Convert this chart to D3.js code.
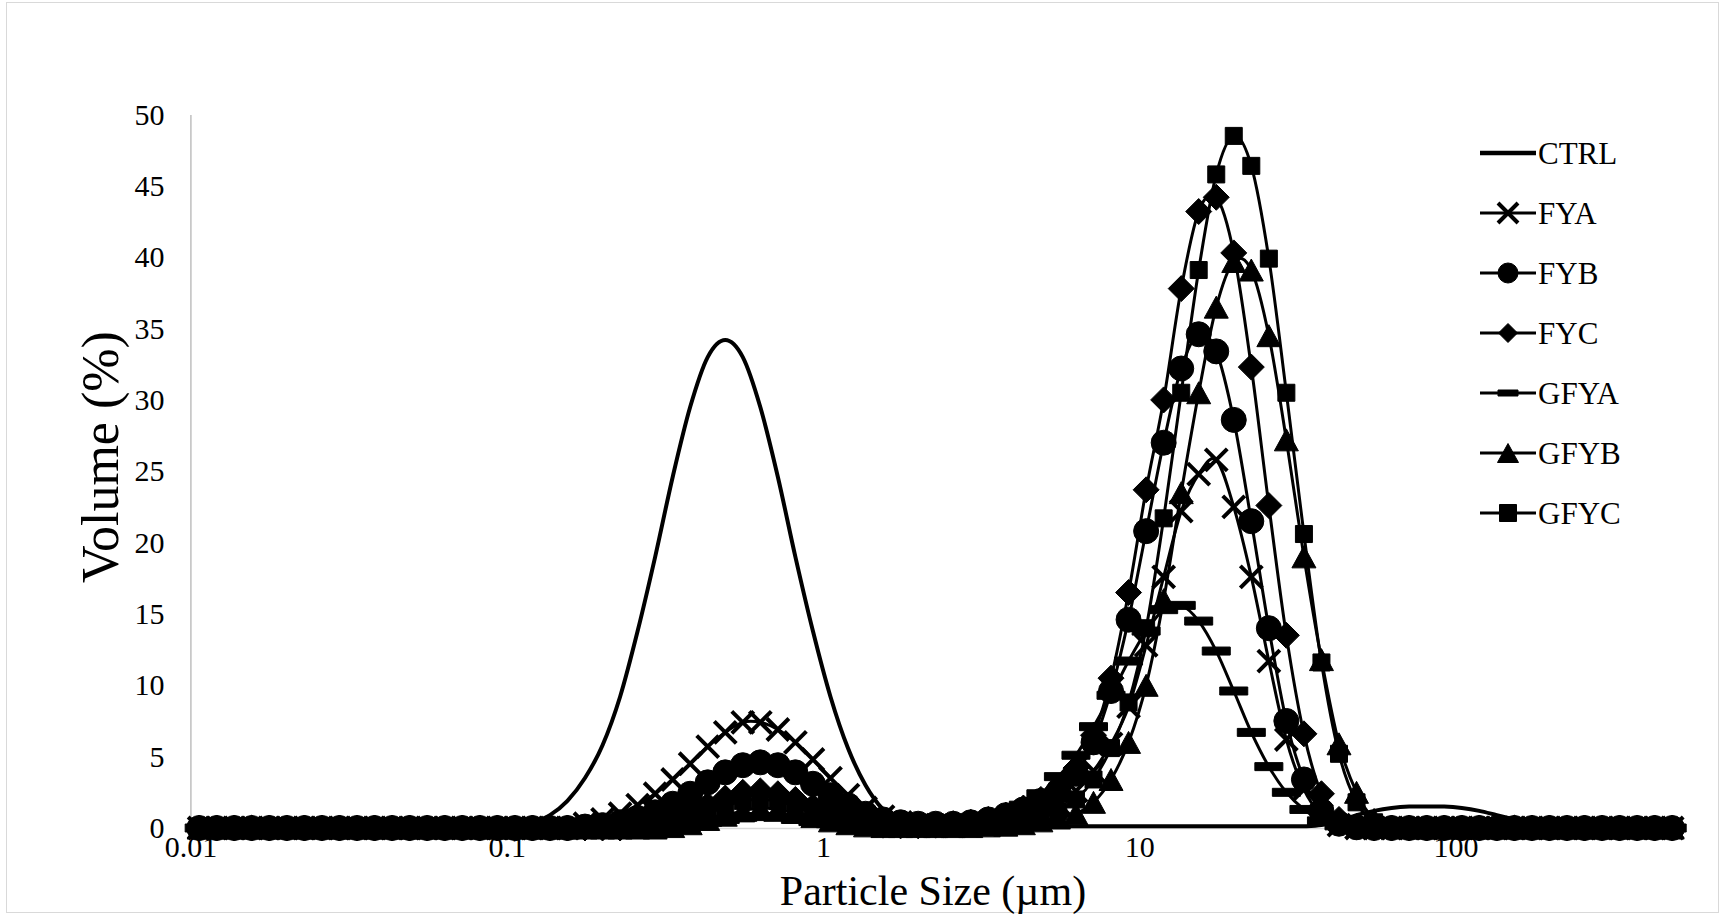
<!DOCTYPE html>
<html>
<head>
<meta charset="utf-8">
<script src="https://cdn.jsdelivr.net/npm/d3@7"></script>
<style>
  html, body { margin: 0; padding: 0; background: #fff; }
  svg { display: block; font-family: "Liberation Serif", "Times New Roman", serif; }
</style>
</head>
<body>
<svg id="chart" width="1726" height="916"></svg>
<script>
// particle size classes (um), laser diffraction bins
const sizes = [
  0.01066, 0.01211, 0.01376, 0.01563, 0.01776, 0.02018, 0.02293, 0.02605, 0.02960, 0.03363,
  0.03821, 0.04342, 0.04932, 0.05604, 0.06368, 0.07235, 0.08221, 0.09340, 0.1061, 0.1206,
  0.1370, 0.1556, 0.1768, 0.2009, 0.2283, 0.2594, 0.2947, 0.3348, 0.3802, 0.4320,
  0.4909, 0.5577, 0.6335, 0.7200, 0.8179, 0.9292, 1.056, 1.199, 1.363, 1.548,
  1.759, 1.999, 2.271, 2.580, 2.932, 3.331, 3.784, 4.300, 4.885, 5.550,
  6.306, 7.165, 8.140, 9.248, 10.51, 11.94, 13.57, 15.41, 17.51, 19.89,
  22.60, 25.68, 29.17, 33.15, 37.66, 42.79, 48.62, 55.24, 62.76, 71.31,
  81.02, 92.05, 104.6, 118.8, 135.0, 153.4, 174.3, 198.0, 224.9, 255.6,
  290.4, 329.9, 374.9, 425.9, 483.9
];

// volume (%) per size class
const ctrl = [
  0, 0, 0, 0, 0, 0, 0, 0, 0, 0,
  0, 0, 0, 0, 0, 0, 0, 0, 0.15, 0.4,
  0.9, 1.9, 3.5, 5.8, 9.2, 13.8, 19.0, 24.6, 29.5, 33.0,
  34.2, 33.0, 29.5, 24.6, 19.0, 13.8, 9.2, 5.6, 3.0, 1.3,
  0.4, 0.1, 0.05, 0.05, 0.05, 0.1, 0.1, 0.1, 0.1, 0.12,
  0.12, 0.12, 0.12, 0.12, 0.12, 0.12, 0.12, 0.12, 0.12, 0.12,
  0.12, 0.12, 0.12, 0.12, 0.2, 0.5, 0.9, 1.2, 1.4, 1.5,
  1.5, 1.5, 1.4, 1.2, 0.9, 0.6, 0.3, 0.1, 0, 0,
  0, 0, 0, 0, 0
];
const fya = [
  0, 0, 0, 0, 0, 0, 0, 0, 0, 0,
  0, 0, 0, 0, 0, 0, 0, 0, 0, 0,
  0, 0, 0.3, 0.6, 1.0, 1.6, 2.4, 3.4, 4.5, 5.7,
  6.7, 7.4, 7.4, 6.9, 6.0, 4.8, 3.5, 2.3, 1.4, 0.8,
  0.4, 0.2, 0.15, 0.15, 0.2, 0.3, 0.45, 0.7, 1.1, 1.7,
  2.6, 4.0, 5.9, 8.5, 12.8, 17.6, 22.2, 24.8, 25.8, 22.5,
  17.6, 11.7, 6.2, 2.7, 0.9, 0.2, 0, 0, 0, 0,
  0, 0, 0, 0, 0, 0, 0, 0, 0, 0,
  0, 0, 0, 0, 0
];
const fyb = [
  0, 0, 0, 0, 0, 0, 0, 0, 0, 0,
  0, 0, 0, 0, 0, 0, 0, 0, 0, 0,
  0, 0, 0.1, 0.2, 0.4, 0.7, 1.1, 1.7, 2.4, 3.2,
  3.9, 4.4, 4.6, 4.4, 3.9, 3.1, 2.3, 1.6, 1.0, 0.6,
  0.4, 0.3, 0.3, 0.3, 0.4, 0.6, 0.9, 1.3, 1.9, 2.6,
  3.8, 6.0, 9.6, 14.6, 20.8, 27.0, 32.2, 34.6, 33.4, 28.6,
  21.5, 14.0, 7.5, 3.4, 1.2, 0.3, 0.05, 0, 0, 0,
  0, 0, 0, 0, 0, 0, 0, 0, 0, 0,
  0, 0, 0, 0, 0
];
const fyc = [
  0, 0, 0, 0, 0, 0, 0, 0, 0, 0,
  0, 0, 0, 0, 0, 0, 0, 0, 0, 0,
  0, 0, 0, 0, 0, 0.2, 0.4, 0.7, 1.1, 1.6,
  2.1, 2.5, 2.6, 2.4, 2.0, 1.5, 1.0, 0.6, 0.35, 0.2,
  0.15, 0.15, 0.2, 0.3, 0.4, 0.6, 0.9, 1.4, 2.0, 2.8,
  4.2, 6.5, 10.5, 16.5, 23.7, 30.0, 37.8, 43.2, 44.2, 40.3,
  32.3, 22.6, 13.5, 6.6, 2.4, 0.6, 0.1, 0, 0, 0,
  0, 0, 0, 0, 0, 0, 0, 0, 0, 0,
  0, 0, 0, 0, 0
];
const gfya = [
  0, 0, 0, 0, 0, 0, 0, 0, 0, 0,
  0, 0, 0, 0, 0, 0, 0, 0, 0, 0,
  0, 0, 0, 0, 0, 0, 0, 0.1, 0.2, 0.4,
  0.6, 0.75, 0.8, 0.75, 0.6, 0.45, 0.3, 0.2, 0.15, 0.15,
  0.15, 0.2, 0.25, 0.35, 0.5, 0.7, 1.0, 1.6, 2.4, 3.6,
  5.1, 7.1, 9.3, 11.7, 13.8, 15.3, 15.6, 14.5, 12.4, 9.6,
  6.7, 4.3, 2.5, 1.3, 0.5, 0.15, 0, 0, 0, 0,
  0, 0, 0, 0, 0, 0, 0, 0, 0, 0,
  0, 0, 0, 0, 0
];
const gfyb = [
  0, 0, 0, 0, 0, 0, 0, 0, 0, 0,
  0, 0, 0, 0, 0, 0, 0, 0, 0, 0,
  0, 0, 0, 0, 0, 0, 0, 0.1, 0.3, 0.6,
  0.9, 1.2, 1.4, 1.3, 1.1, 0.8, 0.5, 0.3, 0.15, 0.1,
  0.1, 0.1, 0.1, 0.1, 0.1, 0.15, 0.2, 0.3, 0.5, 0.7,
  1.0, 1.8, 3.4, 6.0, 10.0, 16.0, 23.5, 30.5, 36.5, 39.7,
  39.1, 34.5, 27.2, 19.0, 11.8, 5.9, 2.5, 0.6, 0.1, 0,
  0, 0, 0, 0, 0, 0, 0, 0, 0, 0,
  0, 0, 0, 0, 0
];
const gfyc = [
  0, 0, 0, 0, 0, 0, 0, 0, 0, 0,
  0, 0, 0, 0, 0, 0, 0, 0, 0, 0,
  0, 0, 0, 0, 0, 0, 0.1, 0.3, 0.6, 1.0,
  1.5, 1.9, 2.0, 1.9, 1.5, 1.1, 0.7, 0.4, 0.2, 0.1,
  0.05, 0.05, 0.05, 0.05, 0.05, 0.1, 0.2, 0.4, 0.7, 1.2,
  2.0, 3.4, 5.6, 8.8, 14.0, 21.7, 30.5, 39.1, 45.8, 48.5,
  46.4, 39.9, 30.5, 20.6, 11.6, 5.2, 1.8, 0.4, 0.05, 0,
  0, 0, 0, 0, 0, 0, 0, 0, 0, 0,
  0, 0, 0, 0, 0
];

const seriesNames = ['CTRL', 'FYA', 'FYB', 'FYC', 'GFYA', 'GFYB', 'GFYC'];
const seriesValues = [ctrl, fya, fyb, fyc, gfya, gfyb, gfyc];
const seriesMarkers = ['none', 'x', 'circle', 'diamond', 'dash', 'triangle', 'square'];

const xTicks = [0.01, 0.1, 1, 10, 100];
const yTicks = [0, 5, 10, 15, 20, 25, 30, 35, 40, 45, 50];

const serif = '"Liberation Serif", "Times New Roman", serif';
const svg = d3.select('#chart');

// outer chart border
svg.append('rect')
  .attr('x', 6.5).attr('y', 2.5)
  .attr('width', 1712).attr('height', 910)
  .attr('fill', '#fff')
  .attr('stroke', '#d9d9d9')
  .attr('stroke-width', 1);

const x = d3.scaleLog().domain([0.01, 522]).range([190.4, 1682.6]);
const y = d3.scaleLinear().domain([0, 50]).range([828, 114.5]);

// axes
const xAxis = svg.append('g')
  .attr('transform', 'translate(0,828)')
  .call(d3.axisBottom(x).tickValues(xTicks).tickFormat(d => String(d))
    .tickSize(0).tickSizeOuter(0).tickPadding(8));
xAxis.select('.domain').attr('stroke', '#d9d9d9').attr('stroke-width', 1.5);
xAxis.selectAll('text')
  .attr('font-family', serif)
  .attr('font-size', 30).attr('fill', '#000');

const yAxis = svg.append('g')
  .attr('transform', 'translate(190.4,0)')
  .call(d3.axisLeft(y).tickValues(yTicks).tickSize(0).tickSizeOuter(0).tickPadding(26));
yAxis.select('.domain').attr('stroke', '#bfbfbf').attr('stroke-width', 1.5);
yAxis.selectAll('text')
  .attr('font-family', serif)
  .attr('font-size', 30).attr('fill', '#000');

svg.append('text')
  .attr('transform', 'translate(100,457) rotate(-90)')
  .attr('text-anchor', 'middle')
  .attr('dominant-baseline', 'central')
  .attr('font-family', serif)
  .attr('font-size', 52)
  .text('Volume (%)');

svg.append('text')
  .attr('x', 933).attr('y', 891)
  .attr('text-anchor', 'middle')
  .attr('dominant-baseline', 'central')
  .attr('font-family', serif)
  .attr('font-size', 42)
  .text('Particle Size (\u00b5m)');

// marker shapes, centred on 0,0
function shape(type, big) {
  if (type === 'circle') {
    const r = big ? 12.5 : 10;
    return `M${-r},0A${r},${r} 0 1,0 ${r},0A${r},${r} 0 1,0 ${-r},0Z`;
  }
  if (type === 'square') {
    const h = 8.5;
    return `M${-h},${-h}H${h}V${h}H${-h}Z`;
  }
  if (type === 'diamond') {
    const h = big ? 13 : 9.5;
    return `M0,${-h}L${h},0L0,${h}L${-h},0Z`;
  }
  if (type === 'triangle') {
    const w = big ? 24 : 21, h = big ? 22 : 19;
    return `M0,${-h / 2}L${w / 2},${h / 2}L${-w / 2},${h / 2}Z`;
  }
  if (type === 'dash') {
    const w = big ? 28 : 20, h = big ? 8 : 6;
    return `M${-w / 2},${-h / 2}H${w / 2}V${h / 2}H${-w / 2}Z`;
  }
  if (type === 'x') {
    const h = big ? 11 : 10;
    return `M${-h},${-h}L${h},${h}M${-h},${h}L${h},${-h}`;
  }
  return '';
}

function styleMarker(sel, type) {
  if (type === 'x') {
    sel.attr('fill', 'none').attr('stroke', '#000').attr('stroke-width', 4);
  } else {
    sel.attr('fill', '#000').attr('stroke', '#000').attr('stroke-width', 1)
      .attr('stroke-linejoin', 'round');
  }
}

const line = d3.line()
  .x(d => x(d.size))
  .y(d => y(d.v))
  .curve(d3.curveCardinal.tension(0));

seriesNames.forEach((name, k) => {
  const pts = sizes.map((s, i) => ({ size: s, v: seriesValues[k][i] }));
  const g = svg.append('g').attr('class', 'series');
  g.append('path')
    .datum(pts)
    .attr('d', line)
    .attr('fill', 'none')
    .attr('stroke', '#000')
    .attr('stroke-width', k === 0 ? 4 : 3);

  const type = seriesMarkers[k];
  if (type !== 'none') {
    g.selectAll('path.m')
      .data(pts)
      .join('path')
      .attr('class', 'm')
      .attr('transform', d => `translate(${x(d.size)},${y(d.v)})`)
      .attr('d', shape(type, true))
      .call(styleMarker, type);
  }
});

// legend
const legend = svg.append('g');
seriesNames.forEach((name, k) => {
  const ly = 153 + k * 60;
  const row = legend.append('g').attr('transform', `translate(0,${ly})`);
  row.append('line')
    .attr('x1', 1480).attr('x2', 1536)
    .attr('stroke', '#000')
    .attr('stroke-width', k === 0 ? 4.5 : 3);
  const type = seriesMarkers[k];
  if (type !== 'none') {
    row.append('path')
      .attr('transform', 'translate(1508,0)')
      .attr('d', shape(type, false))
      .call(styleMarker, type);
  }
  row.append('text')
    .attr('x', 1538).attr('y', 0)
    .attr('dominant-baseline', 'central')
    .attr('font-family', serif)
    .attr('font-size', 31)
    .text(name);
});
</script>
</body>
</html>
